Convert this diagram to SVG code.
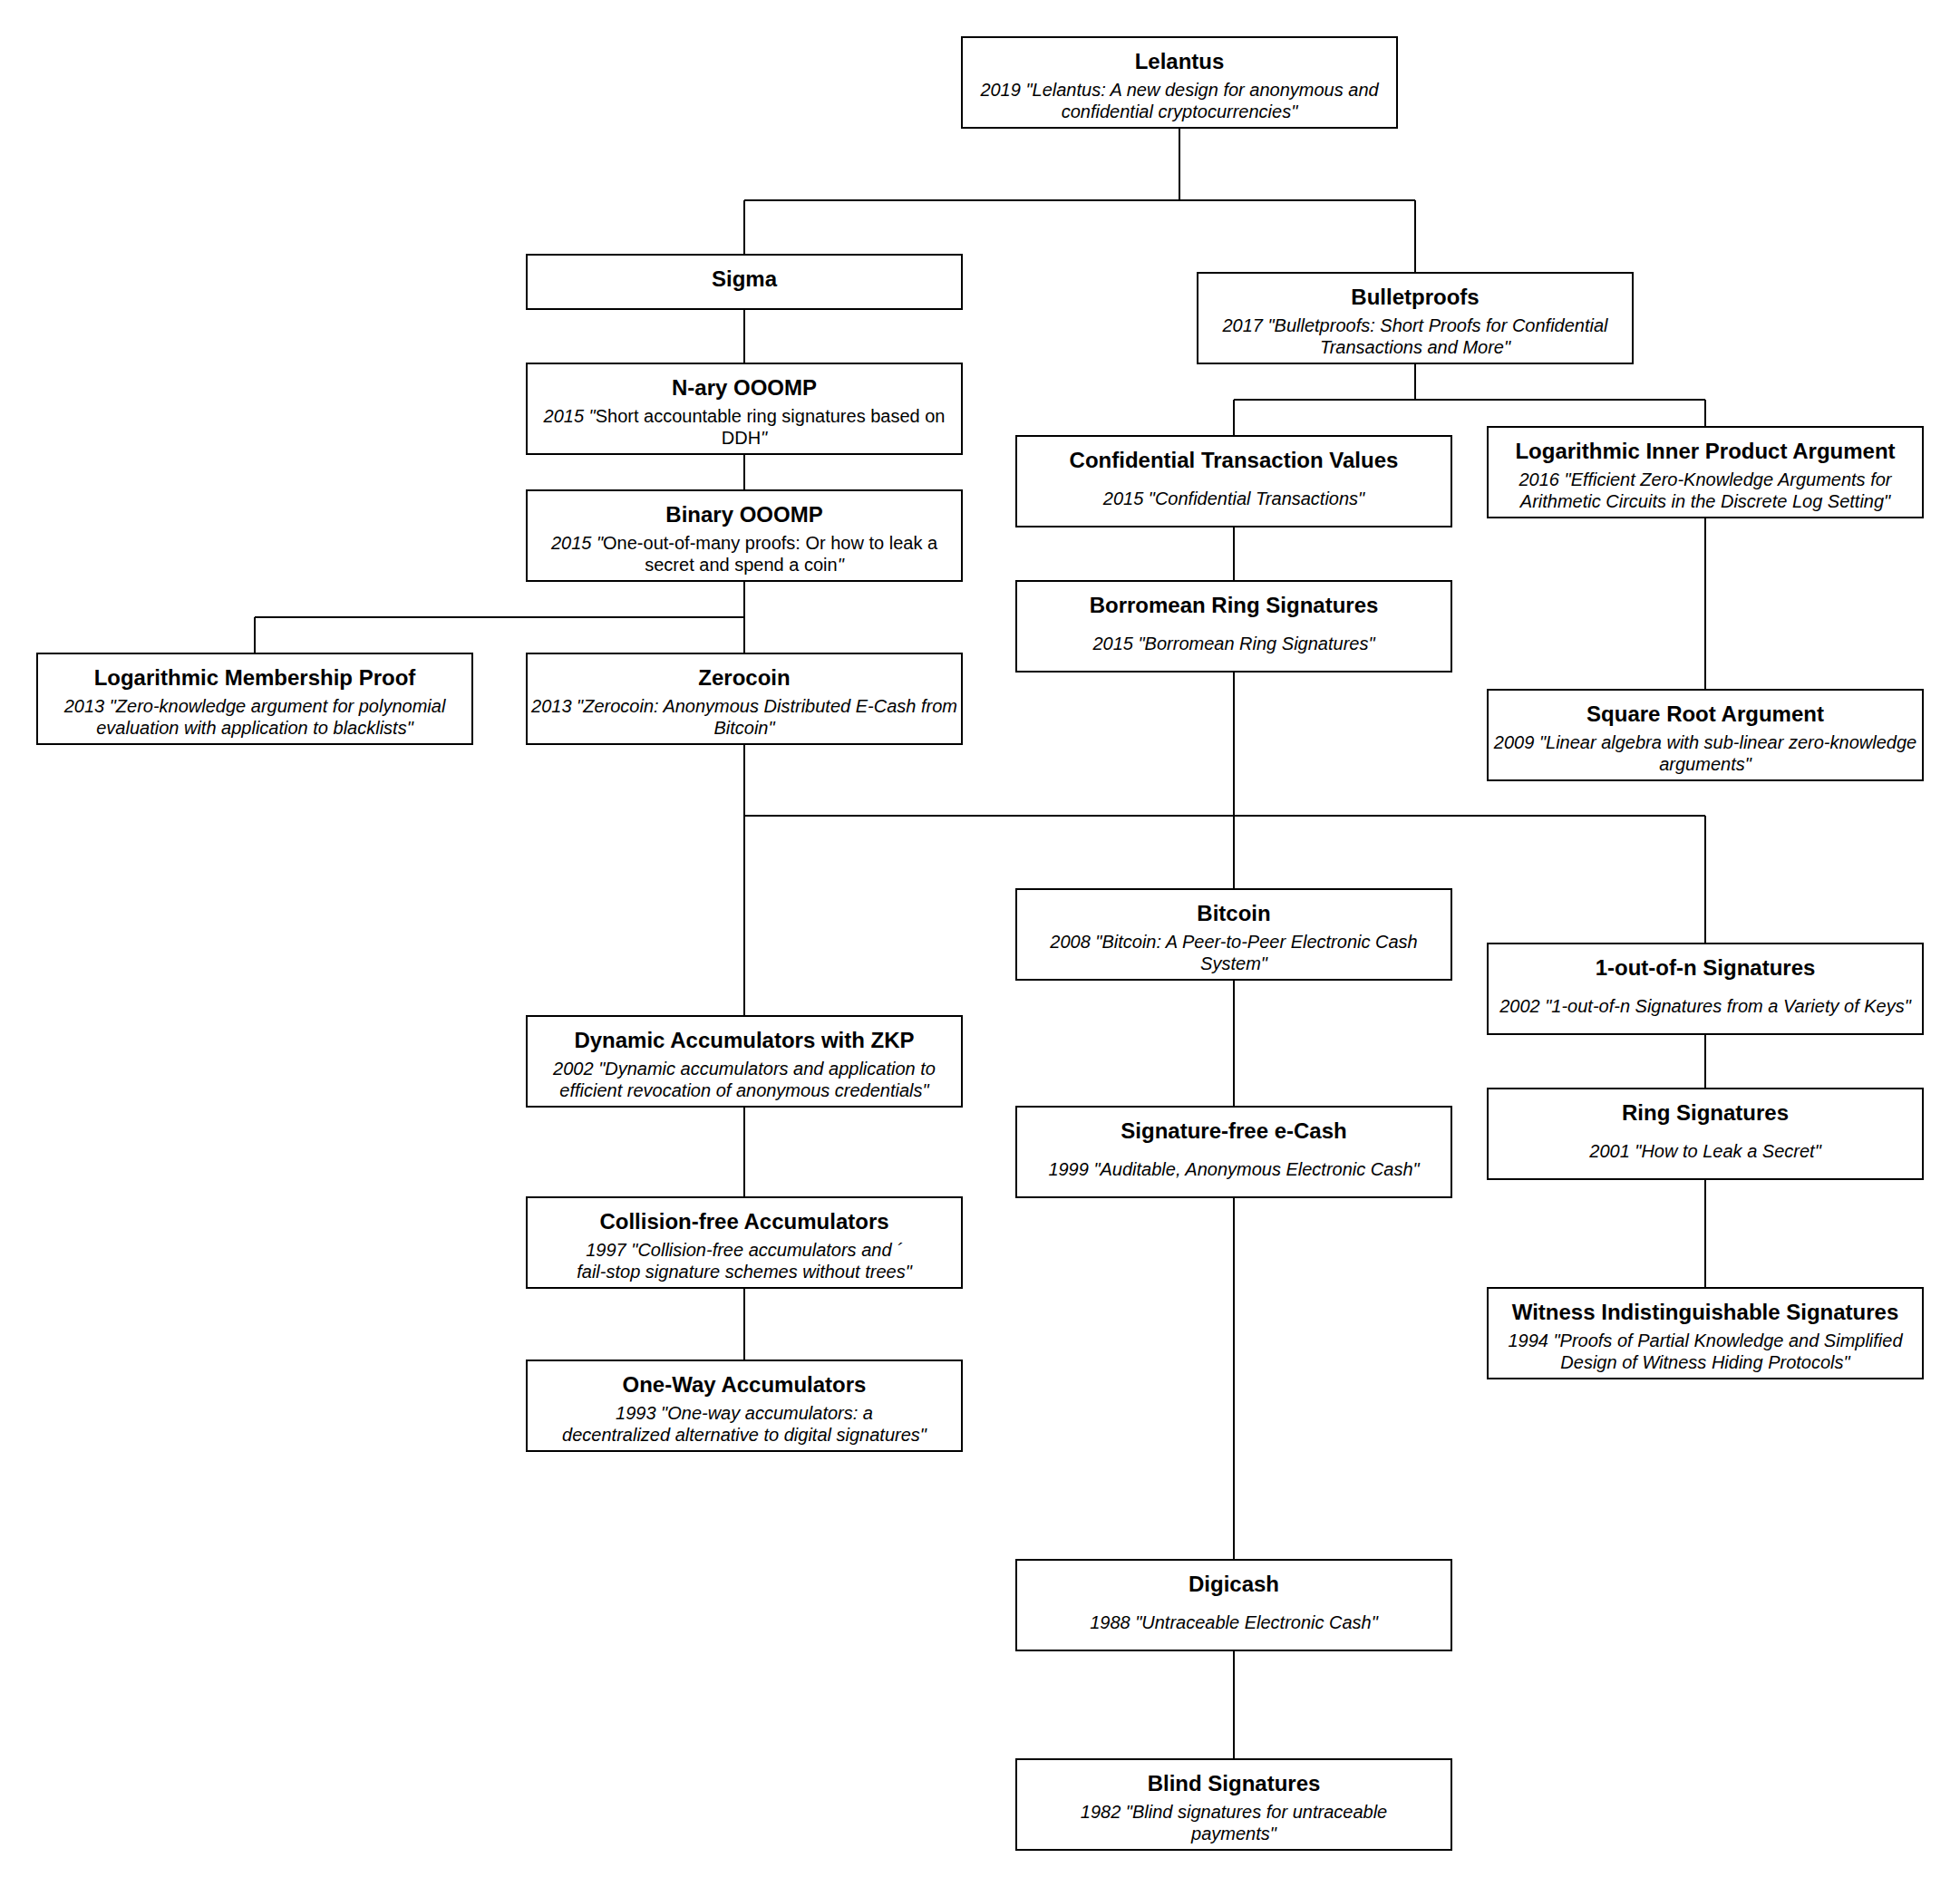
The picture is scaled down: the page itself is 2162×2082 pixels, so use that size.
<svg xmlns="http://www.w3.org/2000/svg" width="2162" height="2082" viewBox="0 0 2162 2082">
<style>
.box{fill:#fff;stroke:#000;stroke-width:2}
.ln{fill:none;stroke:#000;stroke-width:2}
.t{font-family:"Liberation Sans",Arial,sans-serif;font-size:24px;font-weight:bold;text-anchor:middle;fill:#000}
.s{font-family:"Liberation Sans",Arial,sans-serif;font-size:20px;font-style:italic;text-anchor:middle;fill:#000}
.n{font-style:normal}
</style>
<rect x="0" y="0" width="2162" height="2082" fill="#fff"/>
<g id="connectors">
<path class="ln" d="M1301 141V221M821 221H1561M821 221V281M1561 221V301"/>
<path class="ln" d="M821 341V401M821 501V541M821 641V681M281 681H821M281 681V721M821 681V721"/>
<path class="ln" d="M1561 401V441M1361 441H1881M1361 441V481M1881 441V471"/>
<path class="ln" d="M1361 581V641M1881 571V761"/>
<path class="ln" d="M821 821V900M821 900H1881M821 900V1121M1361 741V981M1881 900V1041"/>
<path class="ln" d="M1361 1081V1221M1361 1321V1721M1361 1821V1941"/>
<path class="ln" d="M1881 1141V1201M1881 1301V1421"/>
<path class="ln" d="M821 1221V1321M821 1421V1501"/>
</g>
<g id="lelantus"><rect class="box" x="1061" y="41" width="480" height="100"/><text class="t" x="1301" y="76">Lelantus</text><text class="s" x="1301" y="106">2019 "Lelantus: A new design for anonymous and</text><text class="s" x="1301" y="130">confidential cryptocurrencies"</text></g>
<g id="sigma"><rect class="box" x="581" y="281" width="480" height="60"/><text class="t" x="821" y="316">Sigma</text></g>
<g id="bulletproofs"><rect class="box" x="1321" y="301" width="480" height="100"/><text class="t" x="1561" y="336">Bulletproofs</text><text class="s" x="1561" y="366">2017 "Bulletproofs: Short Proofs for Confidential</text><text class="s" x="1561" y="390">Transactions and More"</text></g>
<g id="nary"><rect class="box" x="581" y="401" width="480" height="100"/><text class="t" x="821" y="436">N-ary OOOMP</text><text class="s" x="821" y="466">2015 "<tspan class="n">Short accountable ring signatures based on</tspan></text><text class="s" x="821" y="490"><tspan class="n">DDH</tspan>"</text></g>
<g id="binary"><rect class="box" x="581" y="541" width="480" height="100"/><text class="t" x="821" y="576">Binary OOOMP</text><text class="s" x="821" y="606">2015 "<tspan class="n">One-out-of-many proofs: Or how to leak a</tspan></text><text class="s" x="821" y="630"><tspan class="n">secret and spend a coin</tspan>"</text></g>
<g id="lmp"><rect class="box" x="41" y="721" width="480" height="100"/><text class="t" x="281" y="756">Logarithmic Membership Proof</text><text class="s" x="281" y="786">2013 "Zero-knowledge argument for polynomial</text><text class="s" x="281" y="810">evaluation with application to blacklists"</text></g>
<g id="zerocoin"><rect class="box" x="581" y="721" width="480" height="100"/><text class="t" x="821" y="756">Zerocoin</text><text class="s" x="821" y="786">2013 "Zerocoin: Anonymous Distributed E-Cash from</text><text class="s" x="821" y="810">Bitcoin"</text></g>
<g id="ctv"><rect class="box" x="1121" y="481" width="480" height="100"/><text class="t" x="1361" y="516">Confidential Transaction Values</text><text class="s" x="1361" y="557">2015 "Confidential Transactions"</text></g>
<g id="lipa"><rect class="box" x="1641" y="471" width="480" height="100"/><text class="t" x="1881" y="506">Logarithmic Inner Product Argument</text><text class="s" x="1881" y="536">2016 "Efficient Zero-Knowledge Arguments for</text><text class="s" x="1881" y="560">Arithmetic Circuits in the Discrete Log Setting"</text></g>
<g id="borromean"><rect class="box" x="1121" y="641" width="480" height="100"/><text class="t" x="1361" y="676">Borromean Ring Signatures</text><text class="s" x="1361" y="717">2015 "Borromean Ring Signatures"</text></g>
<g id="sqrt"><rect class="box" x="1641" y="761" width="480" height="100"/><text class="t" x="1881" y="796">Square Root Argument</text><text class="s" x="1881" y="826">2009 "Linear algebra with sub-linear zero-knowledge</text><text class="s" x="1881" y="850">arguments"</text></g>
<g id="bitcoin"><rect class="box" x="1121" y="981" width="480" height="100"/><text class="t" x="1361" y="1016">Bitcoin</text><text class="s" x="1361" y="1046">2008 "Bitcoin: A Peer-to-Peer Electronic Cash</text><text class="s" x="1361" y="1070">System"</text></g>
<g id="oneoutofn"><rect class="box" x="1641" y="1041" width="480" height="100"/><text class="t" x="1881" y="1076">1-out-of-n Signatures</text><text class="s" x="1881" y="1117">2002 "1-out-of-n Signatures from a Variety of Keys"</text></g>
<g id="dynamic"><rect class="box" x="581" y="1121" width="480" height="100"/><text class="t" x="821" y="1156">Dynamic Accumulators with ZKP</text><text class="s" x="821" y="1186">2002 "Dynamic accumulators and application to</text><text class="s" x="821" y="1210">efficient revocation of anonymous credentials"</text></g>
<g id="sigfree"><rect class="box" x="1121" y="1221" width="480" height="100"/><text class="t" x="1361" y="1256">Signature-free e-Cash</text><text class="s" x="1361" y="1297">1999 "Auditable, Anonymous Electronic Cash"</text></g>
<g id="ring"><rect class="box" x="1641" y="1201" width="480" height="100"/><text class="t" x="1881" y="1236">Ring Signatures</text><text class="s" x="1881" y="1277">2001 "How to Leak a Secret"</text></g>
<g id="collision"><rect class="box" x="581" y="1321" width="480" height="100"/><text class="t" x="821" y="1356">Collision-free Accumulators</text><text class="s" x="821" y="1386">1997 "Collision-free accumulators and ´</text><text class="s" x="821" y="1410">fail-stop signature schemes without trees"</text></g>
<g id="witness"><rect class="box" x="1641" y="1421" width="480" height="100"/><text class="t" x="1881" y="1456">Witness Indistinguishable Signatures</text><text class="s" x="1881" y="1486">1994 "Proofs of Partial Knowledge and Simplified</text><text class="s" x="1881" y="1510">Design of Witness Hiding Protocols"</text></g>
<g id="oneway"><rect class="box" x="581" y="1501" width="480" height="100"/><text class="t" x="821" y="1536">One-Way Accumulators</text><text class="s" x="821" y="1566">1993 "One-way accumulators: a</text><text class="s" x="821" y="1590">decentralized alternative to digital signatures"</text></g>
<g id="digicash"><rect class="box" x="1121" y="1721" width="480" height="100"/><text class="t" x="1361" y="1756">Digicash</text><text class="s" x="1361" y="1797">1988 "Untraceable Electronic Cash"</text></g>
<g id="blind"><rect class="box" x="1121" y="1941" width="480" height="100"/><text class="t" x="1361" y="1976">Blind Signatures</text><text class="s" x="1361" y="2006">1982 "Blind signatures for untraceable</text><text class="s" x="1361" y="2030">payments"</text></g>
</svg>
